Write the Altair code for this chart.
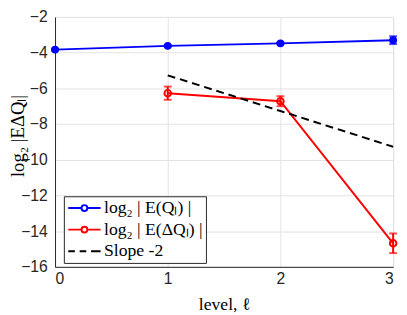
import altair as alt
import pandas as pd

# ---- data ----
levels = [0, 1, 2, 3]
eq = [-3.83, -3.62, -3.48, -3.30]
eq_err = [0.05, 0.05, 0.05, 0.22]

dlevels = [1, 2, 3]
edq = [-6.27, -6.72, -14.68]
edq_err = [0.37, 0.28, 0.55]

slope_levels = [1, 2, 3]
slope = [-5.27, -7.27, -9.27]

legend_labels = ["log₂ | E(Qₗ) |", "log₂ | E(ΔQₗ) |", "Slope -2"]
legend_colors = ["#0000ff", "#ff0000", "#000000"]
x_ticks = [0, 1, 2, 3]
y_ticks = [-16, -14, -12, -10, -8, -6, -4, -2]

# ---- tables ----
blue = pd.DataFrame({"level": levels, "v": eq,
                     "lo": [v - e for v, e in zip(eq, eq_err)],
                     "hi": [v + e for v, e in zip(eq, eq_err)]})
red = pd.DataFrame({"level": dlevels, "v": edq,
                    "lo": [v - e for v, e in zip(edq, edq_err)],
                    "hi": [v + e for v, e in zip(edq, edq_err)]})
sl = pd.DataFrame({"level": slope_levels, "v": slope})
leg = pd.DataFrame({"s": legend_labels})

SERIF = "Liberation Serif"
SANS = "Liberation Sans"

common_axis = dict(grid=True, gridColor="#e2e2e2", gridWidth=1,
                   domainColor="#262626", domainWidth=1, ticks=False,
                   labelFont=SANS, labelFontSize=16, labelColor="#262626",
                   titleFont=SERIF, titleFontWeight="normal", titleColor="black")
x_axis = alt.Axis(values=x_ticks, title="level, ℓ", labelPadding=4, titlePadding=10,
                  titleFontSize=18, **common_axis)
y_axis = alt.Axis(values=y_ticks, title="log₂ |EΔQₗ|", labelPadding=8,
                  titleFontSize=19, titleX=-32, titleY=121, titleBaseline="alphabetic",
                  **common_axis)
xs = alt.Scale(domain=[0, 3], nice=False)
ys = alt.Scale(domain=[-16, -2], nice=False)


def X():
    return alt.X("level:Q", scale=xs, axis=x_axis, title="level, ℓ")


def Y(field):
    return alt.Y(f"{field}:Q", scale=ys, axis=y_axis, title="log₂ |EΔQₗ|")


def series(df, color, filled):
    line = alt.Chart(df).mark_line(color=color, strokeWidth=2).encode(x=X(), y=Y("v"))
    bar = alt.Chart(df).mark_rule(color=color, strokeWidth=2).encode(
        x=X(), y=Y("lo"), y2="hi")
    cap_lo = alt.Chart(df).mark_tick(color=color, orient="horizontal", size=8,
                                     thickness=2).encode(x=X(), y=Y("lo"))
    cap_hi = alt.Chart(df).mark_tick(color=color, orient="horizontal", size=8,
                                     thickness=2).encode(x=X(), y=Y("hi"))
    if filled:
        pts = alt.Chart(df).mark_point(filled=True, color=color, size=64, opacity=1).encode(
            x=X(), y=Y("v"))
    else:
        pts = alt.Chart(df).mark_point(filled=False, color=color, size=45, strokeWidth=2,
                                       opacity=1).encode(x=X(), y=Y("v"))
    return [line, bar, cap_lo, cap_hi, pts]


slope_line = alt.Chart(sl).mark_line(color="black", strokeWidth=2, strokeDash=[8, 5]).encode(
    x=X(), y=Y("v"))

P_CIRCLE = "M-2.2,0H-0.4M0.4,0H2.2M0.4,0A0.4,0.4,0,1,1,-0.4,0A0.4,0.4,0,1,1,0.4,0"
P_DASH = "M-2.2,0H-1.3M-0.65,0H0.25M0.9,0H2.2"

legend = alt.Legend(orient="none", legendX=9, legendY=183, title=None,
                    strokeColor="#262626", fillColor="white", padding=3,
                    symbolSize=225, symbolStrokeWidth=2, symbolOffset=9,
                    labelOffset=11, rowPadding=4,
                    labelFont=SERIF, labelFontSize=18, labelColor="black",
                    cornerRadius=0)

legend_layer = alt.Chart(leg).mark_point(filled=False, strokeWidth=2, opacity=1).encode(
    color=alt.Color("s:N", scale=alt.Scale(domain=legend_labels, range=legend_colors),
                    legend=legend),
    shape=alt.Shape("s:N", scale=alt.Scale(domain=legend_labels,
                                           range=[P_CIRCLE, P_CIRCLE, P_DASH]),
                    legend=legend),
).transform_filter("false")

layers = series(red, "#ff0000", False) + [slope_line] + series(blue, "#0000ff", True) + [legend_layer]

chart = alt.layer(*layers).properties(
    width=345, height=255,
    autosize=alt.AutoSizeParams(type="none"),
    padding={"left": 48, "top": 6, "right": 6, "bottom": 46},
).configure_view(stroke=None).configure(background="white")

chart.save("out.html", embed_options={"renderer": "svg", "actions": False})
